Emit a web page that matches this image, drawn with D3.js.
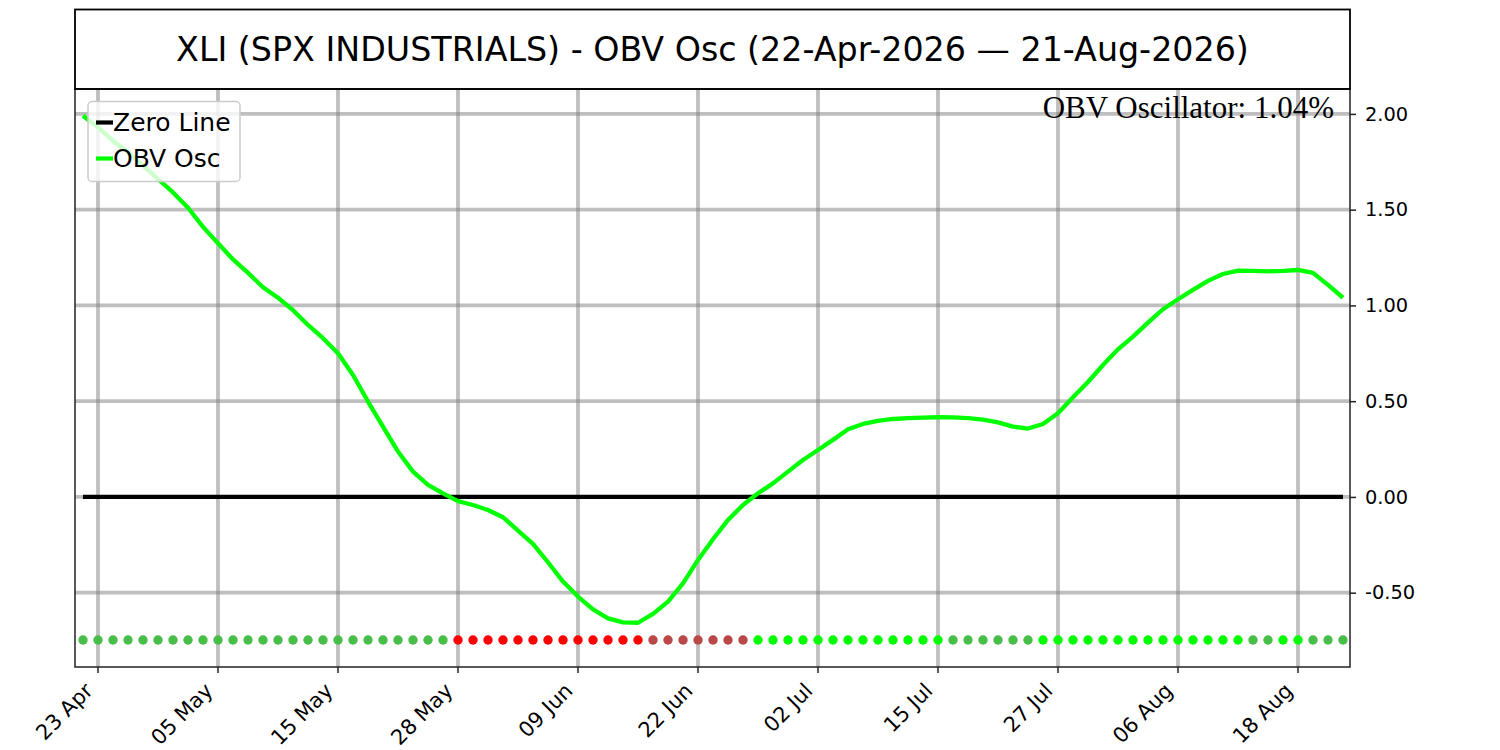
<!DOCTYPE html>
<html>
<head>
<meta charset="utf-8">
<script src="https://cdn.jsdelivr.net/npm/d3@7"></script>
<style>
  body { margin: 0; background: #fff; }
  text { font-family: "DejaVu Sans", sans-serif; }
</style>
</head>
<body>
<svg id="chart"></svg>
<script>
// trading days shown on the chart
const dates = [
  '2026-04-22','2026-04-23','2026-04-24','2026-04-27','2026-04-28','2026-04-29','2026-04-30',
  '2026-05-01','2026-05-04','2026-05-05','2026-05-06','2026-05-07','2026-05-08','2026-05-11',
  '2026-05-12','2026-05-13','2026-05-14','2026-05-15','2026-05-18','2026-05-19','2026-05-20',
  '2026-05-21','2026-05-22','2026-05-26','2026-05-27','2026-05-28','2026-05-29',
  '2026-06-01','2026-06-02','2026-06-03','2026-06-04','2026-06-05','2026-06-08','2026-06-09',
  '2026-06-10','2026-06-11','2026-06-12','2026-06-15','2026-06-16','2026-06-17','2026-06-18',
  '2026-06-22','2026-06-23','2026-06-24','2026-06-25','2026-06-26','2026-06-29','2026-06-30',
  '2026-07-01','2026-07-02','2026-07-06','2026-07-07','2026-07-08','2026-07-09','2026-07-10',
  '2026-07-13','2026-07-14','2026-07-15','2026-07-16','2026-07-17','2026-07-20','2026-07-21',
  '2026-07-22','2026-07-23','2026-07-24','2026-07-27','2026-07-28','2026-07-29','2026-07-30',
  '2026-07-31','2026-08-03','2026-08-04','2026-08-05','2026-08-06','2026-08-07','2026-08-10',
  '2026-08-11','2026-08-12','2026-08-13','2026-08-14','2026-08-17','2026-08-18','2026-08-19',
  '2026-08-20','2026-08-21'
]

// OBV oscillator (%)
const obvOsc = [
  1.99, 1.93, 1.86, 1.80, 1.73, 1.66, 1.59, 1.51, 1.41, 1.325,
  1.24, 1.17, 1.095, 1.04, 0.975, 0.898, 0.829, 0.75, 0.637, 0.498,
  0.367, 0.237, 0.132, 0.063, 0.019, -0.022, -0.042, -0.068, -0.106, -0.176,
  -0.245, -0.341, -0.442, -0.52, -0.587, -0.634, -0.655, -0.657, -0.611, -0.547,
  -0.451, -0.329, -0.221, -0.12, -0.042, 0.019, 0.071, 0.132, 0.193, 0.245,
  0.298, 0.353, 0.381, 0.397, 0.407, 0.412, 0.414, 0.416, 0.415, 0.411,
  0.404, 0.389, 0.367, 0.357, 0.381, 0.437, 0.52, 0.60, 0.689, 0.771,
  0.837, 0.91, 0.98, 1.032, 1.081, 1.128, 1.164, 1.182, 1.18, 1.178,
  1.18, 1.185, 1.17, 1.107, 1.04
]

const xTickDates = ['2026-04-23','2026-05-05','2026-05-15','2026-05-28','2026-06-09','2026-06-22',
  '2026-07-02','2026-07-15','2026-07-27','2026-08-06','2026-08-18']
const yTicks = [-0.5, 0, 0.5, 1.0, 1.5, 2.0]

const title = 'XLI (SPX INDUSTRIALS) - OBV Osc (22-Apr-2026 \u2014 21-Aug-2026)'

const width = 1500
const height = 750
const plot = { left: 75, right: 1350, top: 89, bottom: 667 }

const svg = d3.select('#chart').attr('width', width).attr('height', height)

const n = obvOsc.length
const x = d3.scaleLinear().domain([-0.533, n - 1 + 0.467]).range([plot.left, plot.right])
const y = d3.scaleLinear().domain([-0.888, 2.13]).range([plot.bottom, plot.top])

const fmtTick = d3.timeFormat('%d %b')
const parse = d3.timeParse('%Y-%m-%d')
const tickIdx = xTickDates.map((d) => dates.indexOf(d))

// grid
const grid = svg.append('g').attr('stroke', '#808080').attr('stroke-opacity', 0.5).attr('stroke-width', 3.8)
grid.selectAll('.gx').data(tickIdx).join('line')
  .attr('x1', (d) => x(d)).attr('x2', (d) => x(d))
  .attr('y1', plot.top).attr('y2', plot.bottom)
grid.selectAll('.gy').data(yTicks).join('line')
  .attr('x1', plot.left).attr('x2', plot.right)
  .attr('y1', (d) => y(d)).attr('y2', (d) => y(d))

// zero line
svg.append('line')
  .attr('x1', x(0)).attr('x2', x(n - 1))
  .attr('y1', y(0)).attr('y2', y(0))
  .attr('stroke', '#000').attr('stroke-width', 4.2)

// oscillator line
const line = d3.line().x((d, i) => x(i)).y((d) => y(d))
svg.append('path')
  .datum(obvOsc)
  .attr('fill', 'none')
  .attr('stroke', '#00ff00')
  .attr('stroke-width', 4.3)
  .attr('stroke-linejoin', 'round')
  .attr('d', line)

// signal dots: sign and direction of the oscillator
const dotColor = (d, i) => {
  const prev = i > 0 ? obvOsc[i - 1] : d
  const rising = d > prev
  if (d >= 0) return rising ? '#00ff00' : '#48be48'
  return rising ? '#b94848' : '#ff0000'
}
const dotLevel = d3.min(obvOsc) - 0.09
svg.append('g').selectAll('circle').data(obvOsc).join('circle')
  .attr('cx', (d, i) => x(i))
  .attr('cy', y(dotLevel))
  .attr('r', 4.7)
  .attr('fill', dotColor)

// frame
svg.append('rect')
  .attr('x', plot.left).attr('y', plot.top)
  .attr('width', plot.right - plot.left).attr('height', plot.bottom - plot.top)
  .attr('fill', 'none').attr('stroke', '#222').attr('stroke-width', 1.5)

// right y axis
const yAxis = svg.append('g')
  .attr('transform', `translate(${plot.right},0)`)
  .call(d3.axisRight(y).tickValues(yTicks).tickSize(6).tickPadding(9)
    .tickFormat((d) => d3.format('.2f')(d).replace('\u2212', '-')))
yAxis.select('.domain').remove()
yAxis.selectAll('line').attr('stroke', '#222').attr('stroke-width', 1.5)
yAxis.selectAll('text').attr('font-size', 19.4).attr('fill', '#000')
  .style('font-family', '"DejaVu Sans", sans-serif')

// bottom x axis
const xAxis = svg.append('g').attr('transform', `translate(0,${plot.bottom})`)
xAxis.selectAll('line').data(tickIdx).join('line')
  .attr('x1', (d) => x(d)).attr('x2', (d) => x(d))
  .attr('y1', 0).attr('y2', 6)
  .attr('stroke', '#222').attr('stroke-width', 1.5)
xAxis.selectAll('text').data(tickIdx).join('text')
  .attr('transform', (d) => `translate(${x(d) - 4},${25}) rotate(-45)`)
  .attr('text-anchor', 'end')
  .attr('font-size', 21)
  .text((d) => fmtTick(parse(dates[d])))

// title box
svg.append('rect')
  .attr('x', plot.left).attr('y', 9.5)
  .attr('width', plot.right - plot.left).attr('height', plot.top - 9.5)
  .attr('fill', 'none').attr('stroke', '#000').attr('stroke-width', 1.8)
svg.append('text')
  .attr('x', (plot.left + plot.right) / 2).attr('y', 49)
  .attr('text-anchor', 'middle').attr('dominant-baseline', 'central')
  .attr('font-size', 33.3)
  .text(title)

// current value label
svg.append('text')
  .attr('x', plot.right - 16).attr('y', 118)
  .attr('text-anchor', 'end')
  .attr('font-size', 31)
  .style('font-family', '"Liberation Serif", "Times New Roman", serif')
  .text(`OBV Oscillator: ${obvOsc[n - 1].toFixed(2)}%`)

// legend
const legendItems = [
  { label: 'Zero Line', color: '#000' },
  { label: 'OBV Osc', color: '#00ff00' }
]
const legend = svg.append('g').attr('transform', 'translate(88,101.5)')
legend.append('rect')
  .attr('width', 152).attr('height', 80).attr('rx', 4)
  .attr('fill', '#fff').attr('fill-opacity', 0.8)
  .attr('stroke', '#cccccc').attr('stroke-width', 1.5)
const li = legend.selectAll('g.item').data(legendItems).join('g')
  .attr('transform', (d, i) => `translate(0,${21 + i * 36})`)
li.append('line').attr('x1', 8).attr('x2', 25).attr('stroke', (d) => d.color).attr('stroke-width', 4.2)
li.append('text').attr('x', 25).attr('dominant-baseline', 'central')
  .attr('font-size', 25).text((d) => d.label)
</script>
</body>
</html>
